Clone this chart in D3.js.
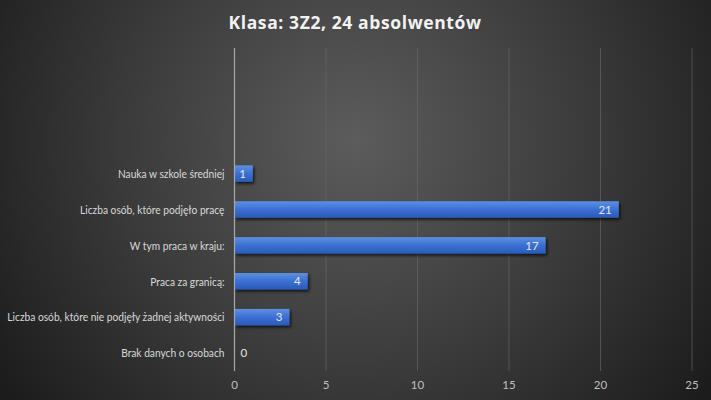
<!DOCTYPE html>
<html><head><meta charset="utf-8">
<script src="https://cdn.jsdelivr.net/npm/d3@7"></script>
<style>html,body{margin:0;padding:0;background:#333;}svg{display:block;}</style>
</head><body>
<svg id="chart" width="711" height="400"></svg>
<script>
const title = "Klasa: 3Z2, 24 absolwentów";
const categories = ["", "", "",
  "Nauka w szkole średniej",
  "Liczba osób, które podjęło pracę",
  "W tym praca w kraju:",
  "Praca za granicą:",
  "Liczba osób, które nie podjęły żadnej aktywności",
  "Brak danych o osobach"];
const values = [null, null, null, 1, 21, 17, 4, 3, 0];
const xTicks = [0, 5, 10, 15, 20, 25];

const W = 711, H = 400;
const margin = {top: 48, right: 19, bottom: 29, left: 234.5};
const svg = d3.select("#chart");
const defs = svg.append("defs");

const bg = defs.append("radialGradient").attr("id", "bg")
  .attr("gradientUnits", "userSpaceOnUse")
  .attr("cx", 355).attr("cy", 140).attr("r", 430);
bg.append("stop").attr("offset", "0%").attr("stop-color", "#5c5c5c");
bg.append("stop").attr("offset", "55%").attr("stop-color", "#3a3a3a");
bg.append("stop").attr("offset", "100%").attr("stop-color", "#1c1c1c");

const bar = defs.append("linearGradient").attr("id", "bar")
  .attr("x1", 0).attr("y1", 0).attr("x2", 0).attr("y2", 1);
bar.append("stop").attr("offset", "0%").attr("stop-color", "#5d90e2");
bar.append("stop").attr("offset", "50%").attr("stop-color", "#3b6fd2");
bar.append("stop").attr("offset", "100%").attr("stop-color", "#2a5ab8");

const sh = defs.append("filter").attr("id", "sh")
  .attr("x", "-10%").attr("y", "-30%").attr("width", "130%").attr("height", "180%");
sh.append("feDropShadow").attr("dx", 1.5).attr("dy", 2).attr("stdDeviation", 1.5)
  .attr("flood-color", "#000").attr("flood-opacity", 0.7);

svg.append("rect").attr("width", W).attr("height", H).attr("fill", "url(#bg)");

const x = d3.scaleLinear().domain([0, 25]).range([margin.left, W - margin.right]);
const y = d3.scaleBand().domain(d3.range(categories.length))
  .range([margin.top, H - margin.bottom]).paddingInner(0.54).paddingOuter(0.27);

// gridlines
svg.append("g").selectAll("line").data(xTicks.filter(d => d > 0)).join("line")
  .attr("x1", d => x(d)).attr("x2", d => x(d))
  .attr("y1", margin.top).attr("y2", H - margin.bottom)
  .attr("stroke", "#6a6a6a").attr("stroke-opacity", 0.6).attr("stroke-width", 1);

// bars
const data = categories.map((c, i) => ({c, v: values[i], i})).filter(d => d.v !== null);
svg.append("g").selectAll("rect").data(data.filter(d => d.v > 0)).join("rect")
  .attr("x", x(0)).attr("y", d => y(d.i))
  .attr("width", d => x(d.v) - x(0)).attr("height", y.bandwidth())
  .attr("fill", "url(#bar)").attr("filter", "url(#sh)");

// axis line
svg.append("line").attr("x1", x(0)).attr("x2", x(0))
  .attr("y1", margin.top).attr("y2", H - margin.bottom)
  .attr("stroke", "#a8a8a8").attr("stroke-width", 1.2);

const font = "Lato, 'Open Sans', sans-serif";

// value labels
svg.append("g").selectAll("text").data(data).join("text")
  .attr("x", d => d.v > 0 ? x(d.v) - 7 : x(0) + 6)
  .attr("y", d => y(d.i) + y.bandwidth() / 2)
  .attr("dy", "0.36em")
  .attr("text-anchor", d => d.v > 0 ? "end" : "start")
  .attr("fill", "#e6e6e6").attr("font-family", font).attr("font-size", 11.5)
  .text(d => d.v);

// category labels, horizontally condensed so the longest one fits the left margin
const lx = x(0) - 10;
const labels = svg.append("g").selectAll("text").data(data).join("text")
  .attr("x", 0).attr("y", 0)
  .attr("dy", "0.36em").attr("text-anchor", "end")
  .attr("fill", "#d9d9d9").attr("font-family", font).attr("font-size", 12)
  .text(d => d.c);
const maxW = d3.max(labels.nodes(), n => n.getComputedTextLength());
const avail = lx - 7;
const sx = Math.min(1, avail / maxW);
labels.attr("transform", d => `translate(${lx},${y(d.i) + y.bandwidth() / 2}) scale(${sx},1)`);

// x tick labels
svg.append("g").selectAll("text").data(xTicks).join("text")
  .attr("x", d => x(d)).attr("y", H - margin.bottom + 18)
  .attr("text-anchor", "middle")
  .attr("fill", "#bfbfbf").attr("font-family", font).attr("font-size", 11.5)
  .text(d => d);

// title
svg.append("text").attr("x", 355).attr("y", 29).attr("text-anchor", "middle")
  .attr("fill", "#f2f2f2").attr("font-family", "'Open Sans', sans-serif").attr("font-weight", "bold")
  .attr("font-size", 17.5).attr("letter-spacing", 0.6)
  .text(title);
</script>
</body></html>
